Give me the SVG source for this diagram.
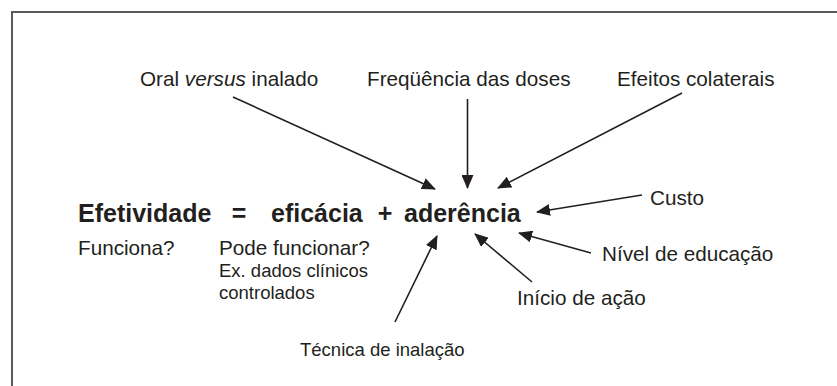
<svg xmlns="http://www.w3.org/2000/svg" width="837" height="386" viewBox="0 0 837 386">
<style>
text{font-family:"Liberation Sans",Arial,Helvetica,sans-serif;fill:#231f20}
.lb{font-size:20.7px}
.sm{font-size:18.5px}
.eq{font-size:25px;font-weight:bold}
.c{stroke:#231f20;stroke-width:1.6;fill:none;marker-end:url(#ah)}
</style>
<defs>
<marker id="ah" markerUnits="userSpaceOnUse" markerWidth="14" markerHeight="12" viewBox="0 0 14 12" refX="13" refY="6" orient="auto">
<path d="M0,0 L14,6 L0,12 Z" fill="#231f20"/>
</marker>
</defs>
<rect width="837" height="386" fill="#fff"/>
<path d="M12,390 V12 H840" fill="none" stroke="#5a5a5a" stroke-width="2"/>
<g id="connectors">
<line class="c" x1="233" y1="97" x2="435" y2="189"/>
<line class="c" x1="467.5" y1="99" x2="467.5" y2="188"/>
<line class="c" x1="682" y1="93" x2="498" y2="188"/>
<line class="c" x1="642" y1="195" x2="537" y2="212"/>
<line class="c" x1="591" y1="253" x2="519" y2="233"/>
<line class="c" x1="532" y1="282" x2="475" y2="234"/>
<line class="c" x1="395" y1="322" x2="437" y2="236"/>
</g>
<g id="equation">
<text class="eq" x="78" y="222">Efetividade</text>
<text class="eq" x="239" y="222" text-anchor="middle">=</text>
<text class="eq" x="271" y="222">eficácia</text>
<text class="eq" x="385" y="222" text-anchor="middle">+</text>
<text class="eq" x="404" y="222">aderência</text>
</g>
<g id="oral"><text class="lb" x="140" y="86">Oral <tspan font-style="italic">versus</tspan> inalado</text></g>
<g id="freq"><text class="lb" x="367" y="86">Freqüência das doses</text></g>
<g id="efeitos"><text class="lb" x="617" y="86">Efeitos colaterais</text></g>
<g id="custo"><text class="lb" x="650" y="205">Custo</text></g>
<g id="nivel"><text class="lb" x="602" y="261">Nível de educação</text></g>
<g id="inicio"><text class="lb" x="517" y="305">Início de ação</text></g>
<g id="tecnica"><text class="sm" x="300" y="356">Técnica de inalação</text></g>
<g id="funciona"><text class="lb" x="78" y="255">Funciona?</text></g>
<g id="pode"><text class="lb" x="219" y="255">Pode funcionar?</text>
<text class="sm" x="219" y="277">Ex. dados clínicos</text>
<text class="sm" x="219" y="299">controlados</text></g>
</svg>
